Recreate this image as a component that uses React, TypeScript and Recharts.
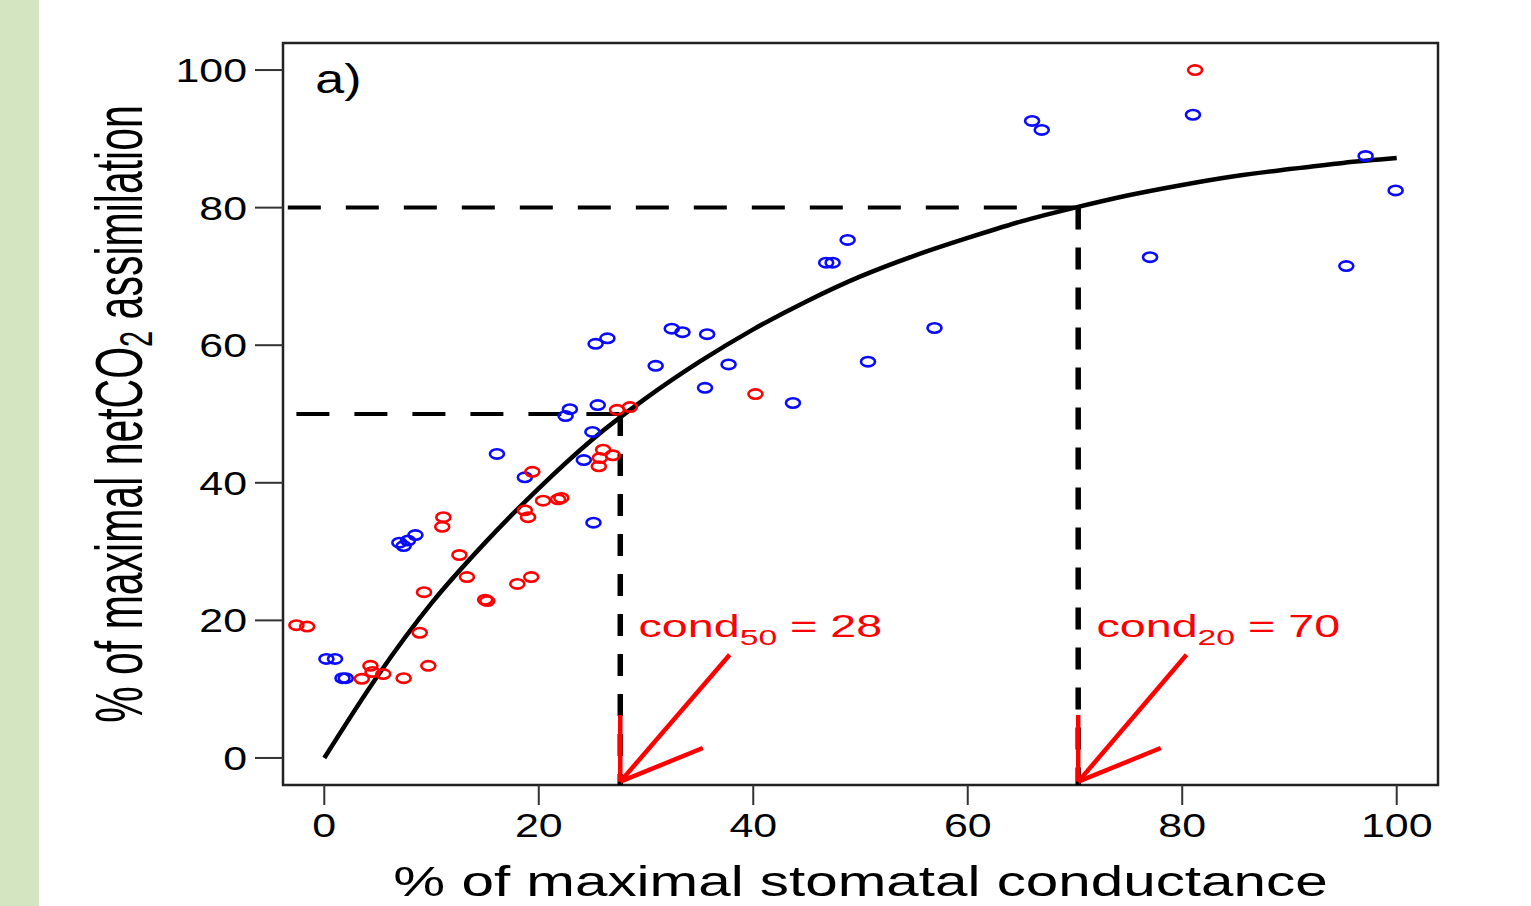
import React from 'react';
import {
  ComposedChart,
  XAxis,
  YAxis,
  Scatter,
  Line,
  ReferenceLine,
  ReferenceArea,
  ReferenceDot,
} from 'recharts';

const FONT = '"Liberation Sans", Arial, Helvetica, sans-serif';

// ---- tick labels / domains ----
const xTicks = [0, 20, 40, 60, 80, 100];
const yTicks = [0, 20, 40, 60, 80, 100];
const xDomain: [number, number] = [-3.85, 103.85];
const yDomain: [number, number] = [-3.93, 103.93];

// ---- blue points (x = % max conductance, y = % max assimilation) ----
const blueX = [0.2, 1.0, 1.7, 2.0, 7.0, 7.4, 7.8, 8.5, 16.1, 18.7, 22.5, 22.9, 24.2, 25.0, 25.1, 25.5, 25.3, 26.4, 30.9, 32.4, 33.4, 35.7, 35.5, 37.7, 43.7, 46.8, 47.4, 48.8, 50.7, 56.9, 66.0, 66.9, 77.0, 81.0, 95.3, 97.1, 99.9];
const blueY = [14.4, 14.4, 11.6, 11.6, 31.3, 30.8, 31.6, 32.4, 44.2, 40.8, 49.7, 50.7, 43.3, 47.4, 34.2, 51.3, 60.2, 61.0, 57.0, 62.4, 61.9, 61.6, 53.8, 57.2, 51.6, 72.0, 72.0, 75.3, 57.6, 62.5, 92.6, 91.3, 72.8, 93.5, 71.5, 87.5, 82.5];

// ---- red points ----
const redX = [-2.6, -1.6, 3.5, 4.3, 4.5, 5.5, 7.4, 8.9, 9.3, 9.7, 11.0, 11.1, 12.6, 13.3, 15.0, 15.2, 18.0, 18.7, 19.0, 19.3, 19.4, 20.4, 21.8, 22.1, 25.6, 25.7, 26.0, 26.9, 27.3, 28.5, 40.2, 81.2];
const redY = [19.3, 19.1, 11.5, 13.4, 12.5, 12.2, 11.6, 18.2, 24.1, 13.4, 33.6, 35.0, 29.5, 26.3, 23.0, 22.8, 25.3, 36.0, 35.0, 26.3, 41.6, 37.4, 37.6, 37.8, 42.4, 43.6, 44.8, 44.0, 50.6, 51.0, 52.9, 100];

// ---- fitted curve ----
const curveX = [0, 5, 10, 15, 20, 25, 30, 35, 40, 45, 50, 55, 60, 65, 70, 75, 80, 85, 90, 95, 100];
const curveY = [0, 12.0, 22.5, 31.3, 39.2, 46.3, 52.3, 57.6, 62.3, 66.4, 70.0, 73.0, 75.6, 78.0, 80.0, 81.8, 83.3, 84.6, 85.6, 86.5, 87.2];

// ---- thresholds ----
const cond50X = 27.6;
const cond50Y = 50;
const cond20X = 70.3;
const cond20Y = 80;

const bluePts = blueX.map((x, i) => ({ x, y: blueY[i] }));
const redPts = redX.map((x, i) => ({ x, y: redY[i] }));
const curvePts = curveX.map((x, i) => ({ x, y: curveY[i] }));

const PLOT_LEFT = 283;
const PLOT_TOP = 43;
const PLOT_RIGHT = 1438;
const PLOT_BOTTOM = 785;

const RED = '#ff0000';
const BLUE = '#0a0aff';

const ring = (color: string) => (p: any) => (
  <ellipse cx={p.cx} cy={p.cy} rx={7} ry={4.7} fill="none" stroke={color} strokeWidth={2.6} />
);

const YTick = (props: any) => {
  const { x, y, payload } = props;
  return (
    <g transform={`translate(${x},${y + 12}) scale(1.32,1)`}>
      <text x={0} y={0} textAnchor="end" fontFamily={FONT} fontSize={32.5} fill="#000">
        {payload.value}
      </text>
    </g>
  );
};

const XTick = (props: any) => {
  const { x, y, payload } = props;
  return (
    <g transform={`translate(${x},${y + 32}) scale(1.3,1)`}>
      <text x={0} y={0} textAnchor="middle" fontFamily={FONT} fontSize={33} fill="#000">
        {payload.value}
      </text>
    </g>
  );
};

const XTitle = () => (
  <g transform={`translate(${(PLOT_LEFT + PLOT_RIGHT) / 2},896) scale(1.39,1)`}>
    <text x={0} y={0} textAnchor="middle" fontFamily={FONT} fontSize={42} fill="#000">
      % of maximal stomatal conductance
    </text>
  </g>
);

const YTitle = () => (
  <g transform={`translate(142,${(PLOT_TOP + PLOT_BOTTOM) / 2}) rotate(-90) scale(1,1.62)`}>
    <text x={0} y={0} textAnchor="middle" fontFamily={FONT} fontSize={41} fill="#000">
      <tspan>% of maximal netCO</tspan>
      <tspan fontSize={29} dy={6}>2</tspan>
      <tspan dy={-6}> assimilation</tspan>
    </text>
  </g>
);

const CondLabel = ({ cx, cy, sub, val }: any) => (
  <g transform={`translate(${cx},${cy}) scale(1.53,1)`}>
    <text x={0} y={0} fontFamily={FONT} fontSize={30.5} fill={RED}>
      <tspan>cond</tspan>
      <tspan fontSize={22} dy={8}>{sub}</tspan>
      <tspan dy={-8}>{` = ${val}`}</tspan>
    </text>
  </g>
);

const PanelLabel = ({ cx, cy }: any) => (
  <g transform={`translate(${cx},${cy}) scale(1.3,1)`}>
    <text x={0} y={0} fontFamily={FONT} fontSize={40} fill="#000">
      a)
    </text>
  </g>
);

export default function App() {
  return (
    <div
      style={{
        position: 'fixed',
        left: 0,
        top: 0,
        width: 1531,
        height: 906,
        background: '#ffffff',
        overflow: 'hidden',
      }}
    >
      <div
        style={{ position: 'absolute', left: 0, top: 0, width: 39, height: 906, background: '#d4e6c1' }}
      />
      <div style={{ position: 'absolute', left: 0, top: 0 }}>
        <ComposedChart
          width={1531}
          height={906}
          margin={{ top: PLOT_TOP, right: 1531 - PLOT_RIGHT, bottom: 0, left: 0 }}
        >
          <XAxis
            type="number"
            dataKey="x"
            domain={xDomain}
            ticks={xTicks}
            allowDataOverflow
            axisLine={false}
            tickLine={{ stroke: '#333', strokeWidth: 2 }}
            tickSize={20}
            tickMargin={0}
            height={906 - PLOT_BOTTOM}
            tick={<XTick />}
            label={{ content: () => <XTitle /> }}
          />
          <YAxis
            type="number"
            dataKey="y"
            domain={yDomain}
            ticks={yTicks}
            allowDataOverflow
            axisLine={false}
            tickLine={{ stroke: '#333', strokeWidth: 2 }}
            tickSize={28}
            tickMargin={8}
            width={PLOT_LEFT}
            tick={<YTick />}
            label={{ content: () => <YTitle /> }}
          />
          <ReferenceArea
            x1={xDomain[0]}
            x2={xDomain[1]}
            y1={yDomain[0]}
            y2={yDomain[1]}
            fill="none"
            fillOpacity={0}
            stroke="#222"
            strokeWidth={2.5}
            ifOverflow="visible"
          />
          {/* dashed threshold guides */}
          <ReferenceLine
            segment={[{ x: -2.6, y: cond50Y }, { x: cond50X, y: cond50Y }]}
            stroke="#000"
            strokeWidth={4}
            strokeDasharray="33 25"
          />
          <ReferenceLine
            segment={[{ x: cond50X, y: cond50Y }, { x: cond50X, y: yDomain[0] }]}
            stroke="#000"
            strokeWidth={5.5}
            strokeDasharray="22 18"
          />
          <ReferenceLine
            segment={[{ x: -3.4, y: cond20Y }, { x: cond20X, y: cond20Y }]}
            stroke="#000"
            strokeWidth={4}
            strokeDasharray="33 25"
          />
          <ReferenceLine
            segment={[{ x: cond20X, y: cond20Y }, { x: cond20X, y: yDomain[0] }]}
            stroke="#000"
            strokeWidth={5.5}
            strokeDasharray="22 18"
          />
          <Scatter data={bluePts} dataKey="y" shape={ring(BLUE)} isAnimationActive={false} />
          <Scatter data={redPts} dataKey="y" shape={ring(RED)} isAnimationActive={false} />
          <Line
            data={curvePts}
            dataKey="y"
            type="monotone"
            stroke="#000"
            strokeWidth={4.5}
            dot={false}
            activeDot={false}
            isAnimationActive={false}
          />
          {/* red arrows */}
          <ReferenceLine segment={[{ x: 37.8, y: 15.0 }, { x: 27.6, y: -3.45 }]} stroke={RED} strokeWidth={4.5} ifOverflow="visible" />
          <ReferenceLine segment={[{ x: 27.6, y: 6.25 }, { x: 27.6, y: -3.45 }]} stroke={RED} strokeWidth={4.5} ifOverflow="visible" />
          <ReferenceLine segment={[{ x: 35.3, y: 1.45 }, { x: 27.6, y: -3.45 }]} stroke={RED} strokeWidth={4.5} ifOverflow="visible" />
          <ReferenceLine segment={[{ x: 80.4, y: 15.0 }, { x: 70.3, y: -3.45 }]} stroke={RED} strokeWidth={4.5} ifOverflow="visible" />
          <ReferenceLine segment={[{ x: 70.3, y: 6.25 }, { x: 70.3, y: -3.45 }]} stroke={RED} strokeWidth={4.5} ifOverflow="visible" />
          <ReferenceLine segment={[{ x: 78.0, y: 1.45 }, { x: 70.3, y: -3.45 }]} stroke={RED} strokeWidth={4.5} ifOverflow="visible" />
          <ReferenceDot
            x={29.3}
            y={17.6}
            r={0}
            ifOverflow="visible"
            shape={(p: any) => <CondLabel cx={p.cx} cy={p.cy} sub="50" val="28" />}
          />
          <ReferenceDot
            x={72.0}
            y={17.6}
            r={0}
            ifOverflow="visible"
            shape={(p: any) => <CondLabel cx={p.cx} cy={p.cy} sub="20" val="70" />}
          />
          <ReferenceDot
            x={-0.84}
            y={96.7}
            r={0}
            ifOverflow="visible"
            shape={(p: any) => <PanelLabel cx={p.cx} cy={p.cy} />}
          />
        </ComposedChart>
      </div>
    </div>
  );
}
